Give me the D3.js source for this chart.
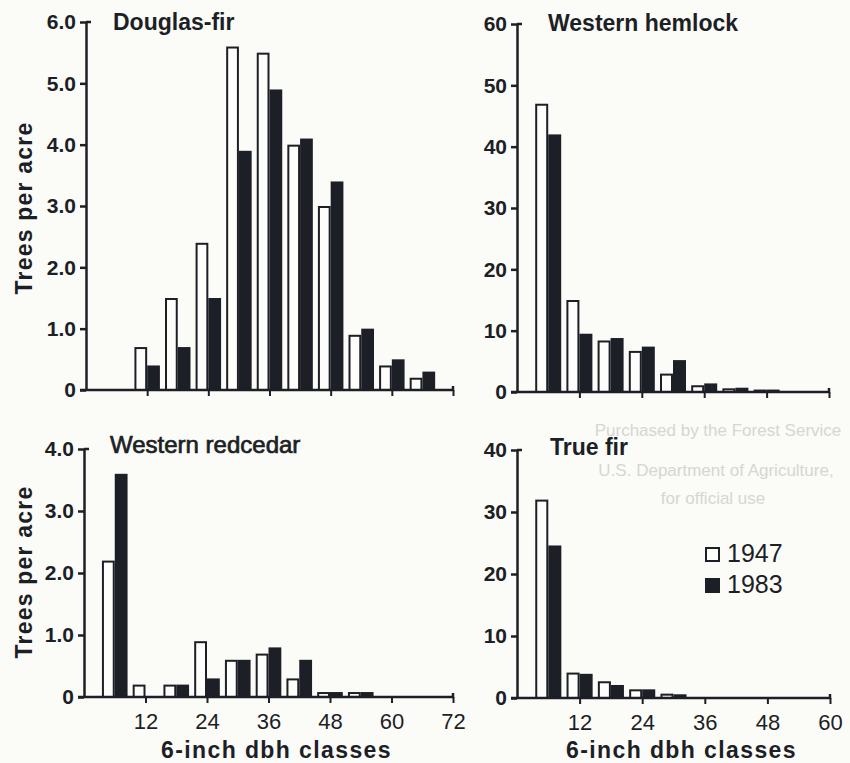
<!DOCTYPE html>
<html>
<head>
<meta charset="utf-8">
<script src="https://cdn.jsdelivr.net/npm/d3@7"></script>
<style>
  body { margin: 0; background: #fbfbf8; }
  svg { display: block; }
  text { font-family: "Liberation Sans", Arial, sans-serif; fill: #1d1f26; }
</style>
</head>
<body>
<div id="chart"></div>
<script>
/* trees per acre by 6-inch dbh class, 1947 vs 1983 */

// diameter classes (inches)
var classes = [6, 12, 18, 24, 30, 36, 42, 48, 54, 60, 66];
var years = ["1947", "1983"];

// Douglas-fir
var douglasFir1947 = [0, 0.7, 1.5, 2.4, 5.6, 5.5, 4.0, 3.0, 0.9, 0.4, 0.2];
var douglasFir1983 = [0, 0.4, 0.7, 1.5, 3.9, 4.9, 4.1, 3.4, 1.0, 0.5, 0.3];

// Western hemlock
var hemlock1947 = [47, 15, 8.4, 6.7, 3.0, 1.1, 0.6, 0.4, 0, 0, 0];
var hemlock1983 = [42, 9.5, 8.8, 7.4, 5.2, 1.4, 0.7, 0.4, 0, 0, 0];

// Western redcedar
var redcedar1947 = [2.2, 0.2, 0.2, 0.9, 0.6, 0.7, 0.3, 0.08, 0.08, 0, 0];
var redcedar1983 = [3.6, 0, 0.2, 0.3, 0.6, 0.8, 0.6, 0.08, 0.08, 0, 0];

// True fir
var trueFir1947 = [32, 4.1, 2.7, 1.4, 0.7, 0, 0, 0, 0, 0, 0];
var trueFir1983 = [24.6, 3.9, 2.1, 1.4, 0.6, 0, 0, 0, 0, 0, 0];

// tick values
var leftXTicks = [12, 24, 36, 48, 60, 72];
var rightXTicks = [12, 24, 36, 48, 60];

// faint stamp showing through the page
var stampLines = ["Purchased by the Forest Service", "U.S. Department of Agriculture,", "for official use"];

var ink = "#1d1f26";
var width = 850, height = 763;

var svg = d3.select("#chart").append("svg")
    .attr("width", width)
    .attr("height", height);

svg.append("rect")
    .attr("width", width)
    .attr("height", height)
    .attr("fill", "#fbfbf8");

// stamp (drawn first, underneath everything)
var stampY = [436, 476, 504];
var stampX = [718, 716, 713];
stampLines.forEach(function(s, i) {
  svg.append("text")
    .attr("x", stampX[i])
    .attr("y", stampY[i])
    .attr("text-anchor", "middle")
    .style("font-size", "17px")
    .style("fill", "#d6d6d3")
    .text(s);
});

var panels = [
  {title: "Douglas-fir", v1947: douglasFir1947, v1983: douglasFir1983,
   x0: 86, x1: 453, xMax: 72, y0: 390, y1: 22, yMax: 6, yStep: 1, dec: true,
   xTicks: leftXTicks, labels: false, titleX: 113, titleY: 30, bold: true},
  {title: "Western hemlock", v1947: hemlock1947, v1983: hemlock1983,
   x0: 517, x1: 829, xMax: 60, y0: 392, y1: 24, yMax: 60, yStep: 10, dec: false,
   xTicks: rightXTicks, labels: false, titleX: 548, titleY: 31, bold: true},
  {title: "Western redcedar", v1947: redcedar1947, v1983: redcedar1983,
   x0: 84, x1: 453, xMax: 72, y0: 697, y1: 449, yMax: 4, yStep: 1, dec: true,
   xTicks: leftXTicks, labels: true, titleX: 110, titleY: 453, bold: false},
  {title: "True fir", v1947: trueFir1947, v1983: trueFir1983,
   x0: 517, x1: 830, xMax: 60, y0: 698, y1: 450, yMax: 40, yStep: 10, dec: false,
   xTicks: rightXTicks, labels: true, titleX: 550, titleY: 455, bold: true}
];

var barUnits = 2.5;

panels.forEach(function(p) {
  var x = d3.scaleLinear().domain([0, p.xMax]).range([p.x0, p.x1]);
  var y = d3.scaleLinear().domain([0, p.yMax]).range([p.y0, p.y1]);
  var g = svg.append("g");

  // bars
  var rows = classes.map(function(c, i) {
    return {c: c, a: p.v1947[i], b: p.v1983[i]};
  }).filter(function(d) { return d.c < p.xMax; });

  g.selectAll(".bar1947")
    .data(rows.filter(function(d) { return d.a > 0; }))
    .enter().append("rect")
      .attr("class", "bar1947")
      .attr("x", function(d) { return x(d.c - barUnits) + 1; })
      .attr("width", function(d) { return x(d.c) - x(d.c - barUnits) - 2; })
      .attr("y", function(d) { return y(d.a) + 1; })
      .attr("height", function(d) { return Math.max(0, y(0) - y(d.a) - 1); })
      .attr("fill", "#fdfdfb")
      .attr("stroke", ink)
      .attr("stroke-width", 2);

  g.selectAll(".bar1983")
    .data(rows.filter(function(d) { return d.b > 0; }))
    .enter().append("rect")
      .attr("class", "bar1983")
      .attr("x", function(d) { return x(d.c); })
      .attr("width", function(d) { return x(d.c + barUnits) - x(d.c); })
      .attr("y", function(d) { return y(d.b); })
      .attr("height", function(d) { return y(0) - y(d.b); })
      .attr("fill", ink);

  // y axis
  var yTicks = d3.range(0, p.yMax + p.yStep / 2, p.yStep);
  var yAxis = d3.axisLeft(y)
    .tickValues(yTicks)
    .tickSize(6)
    .tickSizeOuter(0)
    .tickPadding(4)
    .tickFormat(function(d) { return d === 0 ? "0" : (p.dec ? d3.format(".1f")(d) : d); });
  var ya = g.append("g")
    .attr("transform", "translate(" + p.x0 + ",0)")
    .call(yAxis);
  ya.select(".domain").attr("stroke", ink).attr("stroke-width", 2.5);
  ya.selectAll(".tick line").attr("stroke", ink).attr("stroke-width", 2.5);
  ya.selectAll(".tick text")
    .style("font-size", "21px")
    .style("font-weight", "bold")
    .style("fill", ink);
  // little hook at top of y axis
  g.append("line")
    .attr("x1", p.x0).attr("x2", p.x0 + 5)
    .attr("y1", y(p.yMax)).attr("y2", y(p.yMax))
    .attr("stroke", ink).attr("stroke-width", 2.5);

  // x axis
  var xAxis = d3.axisBottom(x)
    .tickValues(p.xTicks)
    .tickSize(6)
    .tickSizeOuter(0)
    .tickPadding(10)
    .tickFormat(p.labels ? function(d) { return d; } : "");
  var xa = g.append("g")
    .attr("transform", "translate(0," + p.y0 + ")")
    .call(xAxis);
  xa.select(".domain").remove();
  xa.selectAll(".tick line").attr("stroke", ink).attr("stroke-width", 2);
  xa.selectAll(".tick text")
    .style("font-size", "22px")
    .style("fill", ink);
  g.append("line")
    .attr("x1", p.x0 - 6).attr("x2", p.x1)
    .attr("y1", p.y0).attr("y2", p.y0)
    .attr("stroke", ink).attr("stroke-width", 2.5);
  // hook at right end
  g.append("line")
    .attr("x1", p.x1).attr("x2", p.x1)
    .attr("y1", p.y0 - 4).attr("y2", p.y0 + 1)
    .attr("stroke", ink).attr("stroke-width", 2.5);

  // title
  g.append("text")
    .attr("x", p.titleX)
    .attr("y", p.titleY)
    .style("font-size", p.bold ? "23px" : "24px")
    .style("font-weight", p.bold ? "bold" : "normal")
    .style("stroke", p.bold ? "none" : ink)
    .style("stroke-width", p.bold ? 0 : 0.7)
    .text(p.title);

  // x label for bottom panels
  if (p.labels) {
    g.append("text")
      .attr("x", (p.x0 + p.x1) / 2 + 8)
      .attr("y", 758)
      .attr("text-anchor", "middle")
      .style("font-size", "23px")
      .style("font-weight", "bold")
      .style("letter-spacing", "1.4px")
      .text("6-inch dbh classes");
  }
});

// y labels
[208, 572].forEach(function(cy) {
  svg.append("text")
    .attr("transform", "translate(32," + cy + ") rotate(-90)")
    .attr("text-anchor", "middle")
    .style("font-size", "23px")
    .style("font-weight", "bold")
    .style("letter-spacing", "1.2px")
    .text("Trees per acre");
});

// legend
var legend = svg.append("g").attr("transform", "translate(705,547)");
years.forEach(function(yr, i) {
  var row = legend.append("g").attr("transform", "translate(0," + (i * 31) + ")");
  row.append("rect")
    .attr("x", i === 0 ? 1 : 0).attr("y", i === 0 ? 1 : 0)
    .attr("width", i === 0 ? 13 : 15).attr("height", i === 0 ? 13 : 15)
    .attr("fill", i === 0 ? "#fdfdfb" : ink)
    .attr("stroke", i === 0 ? ink : "none")
    .attr("stroke-width", 2);
  row.append("text")
    .attr("x", 22).attr("y", 15)
    .style("font-size", "25px")
    .text(yr);
});
</script>
</body>
</html>
